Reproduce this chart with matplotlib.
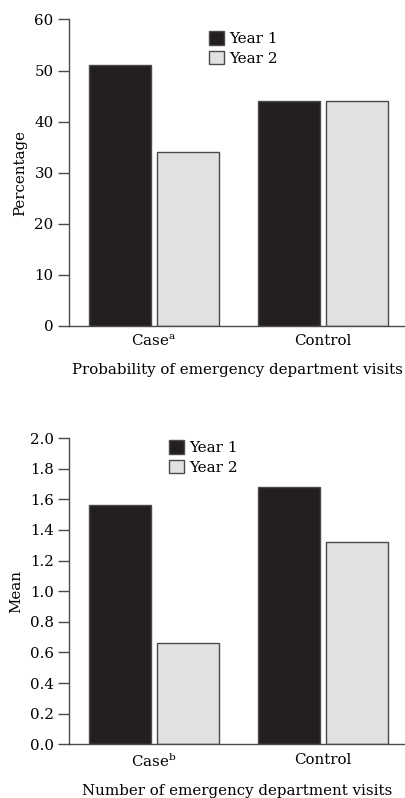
import numpy as np
import matplotlib
matplotlib.use("Agg")
import matplotlib.pyplot as plt
from matplotlib.patches import Patch

plt.rcParams['font.family'] = ['DejaVu Serif']
plt.rcParams['mathtext.fontset'] = 'dejavuserif'

groups_top = ["Case$^{\\mathrm{a}}$", "Control"]
groups_bottom = ["Case$^{\\mathrm{b}}$", "Control"]
series_names = ["Year 1", "Year 2"]
prob_year1 = [51, 44]
prob_year2 = [34, 44]
mean_year1 = [1.56, 1.68]
mean_year2 = [0.66, 1.32]

dark = "#231f20"
light = "#e0e1e3"
edge = "#4a4a4a"

fig = plt.figure(figsize=(4.06, 7.98), dpi=100)
ax1 = fig.add_axes([69 / 406, 1 - 325.7 / 798, 1 - 69 / 406, (325.7 - 19.5) / 798])
ax2 = fig.add_axes([69 / 406, 1 - 744.3 / 798, 1 - 69 / 406, (744.3 - 438) / 798])


def draw(ax, labels, y1, y2, ylim, yticks, ytick_fmt, ylabel, xlabel, leg_anchor):
    x = np.arange(len(labels))
    w = 0.366
    ax.bar(x - 0.2, y1, w, color=dark, edgecolor=edge, linewidth=1)
    ax.bar(x + 0.2, y2, w, color=light, edgecolor=edge, linewidth=1)
    ax.set_xlim(-0.5, 1.49)
    ax.set_ylim(*ylim)
    ax.set_yticks(yticks)
    ax.set_yticklabels([ytick_fmt.format(v) for v in yticks])
    ax.set_xticks(x)
    ax.set_xticklabels(labels)
    for s in ["top", "right"]:
        ax.spines[s].set_visible(False)
    for s in ["left", "bottom"]:
        ax.spines[s].set_color(edge)
        ax.spines[s].set_linewidth(1)
    ax.tick_params(axis="y", length=8, width=1, color=edge, pad=3, labelsize=10.8)
    ax.tick_params(axis="x", length=0, pad=6, labelsize=10.8)
    ax.set_ylabel(ylabel, fontsize=10.8, labelpad=5)
    ax.set_xlabel(xlabel, fontsize=10.8, labelpad=10)
    handles = [Patch(facecolor=dark, edgecolor=edge, linewidth=1),
               Patch(facecolor=light, edgecolor=edge, linewidth=1)]
    ax.legend(handles, series_names, loc="upper left", bbox_to_anchor=leg_anchor,
              bbox_transform=fig.transFigure, frameon=False, fontsize=11,
              handlelength=1.0, handleheight=1.0, handletextpad=0.35,
              labelspacing=0.3, borderpad=0, borderaxespad=0)


draw(ax1, groups_top, prob_year1, prob_year2, (0, 60), [0, 10, 20, 30, 40, 50, 60],
     "{:d}", "Percentage", "Probability of emergency department visits",
     (209 / 406, 1 - 31 / 798))
draw(ax2, groups_bottom, mean_year1, mean_year2, (0, 2.0),
     [0.0, 0.2, 0.4, 0.6, 0.8, 1.0, 1.2, 1.4, 1.6, 1.8, 2.0],
     "{:.1f}", "Mean", "Number of emergency department visits",
     (169 / 406, 1 - 440 / 798))

fig.savefig("out.png", dpi=100)
